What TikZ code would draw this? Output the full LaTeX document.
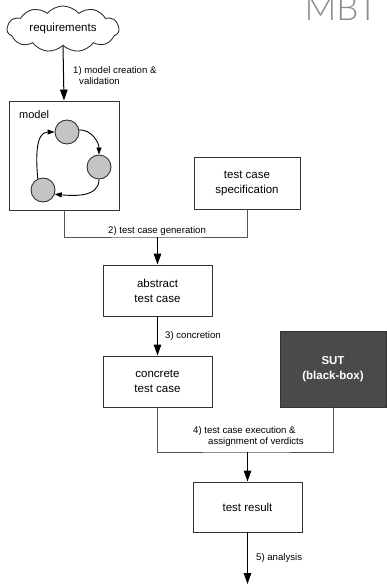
\documentclass[tikz,border=0pt]{standalone}
\usepackage{fontspec}
\setmainfont{Liberation Sans}
\newfontfamily\mbtfont{Lato}[UprightFont={* Light}]
\usetikzlibrary{arrows.meta,shapes.symbols}
\definecolor{edge}{HTML}{333333}
\definecolor{joinc}{HTML}{555555}
\definecolor{statefill}{HTML}{C4C4C4}
\definecolor{sutfill}{HTML}{4A4A4A}
\definecolor{titlegray}{HTML}{8A8A8A}
\tikzset{
  box/.style={draw=edge, line width=0.9pt, fill=white, align=center,
    font=\fontsize{11.5}{15}\selectfont, inner sep=0pt},
  blackbox/.style={box, fill=sutfill, text=white,
    font=\fontsize{11.5}{15}\selectfont\bfseries},
  state/.style={circle, draw=edge, line width=0.9pt, fill=statefill,
    minimum size=24pt, inner sep=0pt},
  arr/.style={line width=1pt, -{Triangle[width=7.5pt,length=11pt]}},
  smallarr/.style={line width=0.9pt, -{Triangle[width=5pt,length=7pt]}},
  joinline/.style={draw=joinc, line width=0.9pt},
  lbl/.style={anchor=west, inner sep=0pt, align=left,
    font=\fontsize{9.6}{11}\selectfont},
}
\begin{document}
\begin{tikzpicture}[x=1pt,y=-1pt]
\useasboundingbox (0,0) rectangle (387,585);

% title
\node[anchor=base east, inner sep=0pt, text=titlegray,
  font=\fontsize{35}{35}\selectfont\mbtfont] (title) at (378,21) {MBT};

% requirements cloud
\node[cloud, cloud puffs=11, cloud puff arc=100, cloud ignores aspect,
  draw=edge, line width=0.9pt, fill=white,
  minimum width=112pt, minimum height=46pt, inner sep=0pt,
  font=\fontsize{11.5}{15}\selectfont] (req) at (63,29) {requirements};

% model with its states
\node[box, minimum width=110pt, minimum height=109pt] (model) at (64,155.5) {};
\node[lbl, font=\fontsize{11}{13}\selectfont] (mlabel) at (19,115) {model};
\node[state] (s1) at (67,132) {};
\node[state] (s2) at (99,167) {};
\node[state] (s3) at (43,190) {};
\draw[smallarr] (s1.10) to[out=0,in=90] (s2.north);
\draw[smallarr] (s2.south) to[out=-90,in=-5] (s3.-20);
\draw[smallarr] (s3.115) to[out=95,in=180] (s1.west);

% remaining boxes
\node[box, minimum width=106pt, minimum height=52pt] (spec) at (247,183)
  {test case\\specification};
\node[box, minimum width=109pt, minimum height=51pt] (abs) at (157.5,290.5)
  {abstract\\test case};
\node[box, minimum width=109pt, minimum height=51pt] (conc) at (157.5,381.5)
  {concrete\\test case};
\node[blackbox, minimum width=106pt, minimum height=76pt] (sut) at (333,369)
  {SUT\\(black-box)};
\node[box, minimum width=109pt, minimum height=50pt] (res) at (247.5,507)
  {test result};

% junctions and the free end
\coordinate (j1) at (157.5,237);
\coordinate (j2) at (247.5,452);
\coordinate (done) at (247.5,584);

% connectors
\draw[arr] (req.south) -- (model.north);
\draw[joinline] (model.south) |- (j1) -| (spec.south);
\draw[arr] (j1) -- (abs.north);
\draw[arr] (abs.south) -- (conc.north);
\draw[joinline] (conc.south) |- (j2) -| (sut.south);
\draw[arr] (j2) -- (res.north);
\draw[arr] (res.south) -- (done);

% step labels
\node[lbl] (l1) at (73,76) {1) model creation \&\\\hspace*{6pt}validation};
\node[lbl] (l2) at (108,231) {2) test case generation};
\node[lbl] (l3) at (165,336) {3) concretion};
\node[lbl] (l4) at (193,437) {4) test case execution \&\\\hspace*{15pt}assignment of verdicts};
\node[lbl] (l5) at (256,558) {5) analysis};
\end{tikzpicture}
\end{document}
